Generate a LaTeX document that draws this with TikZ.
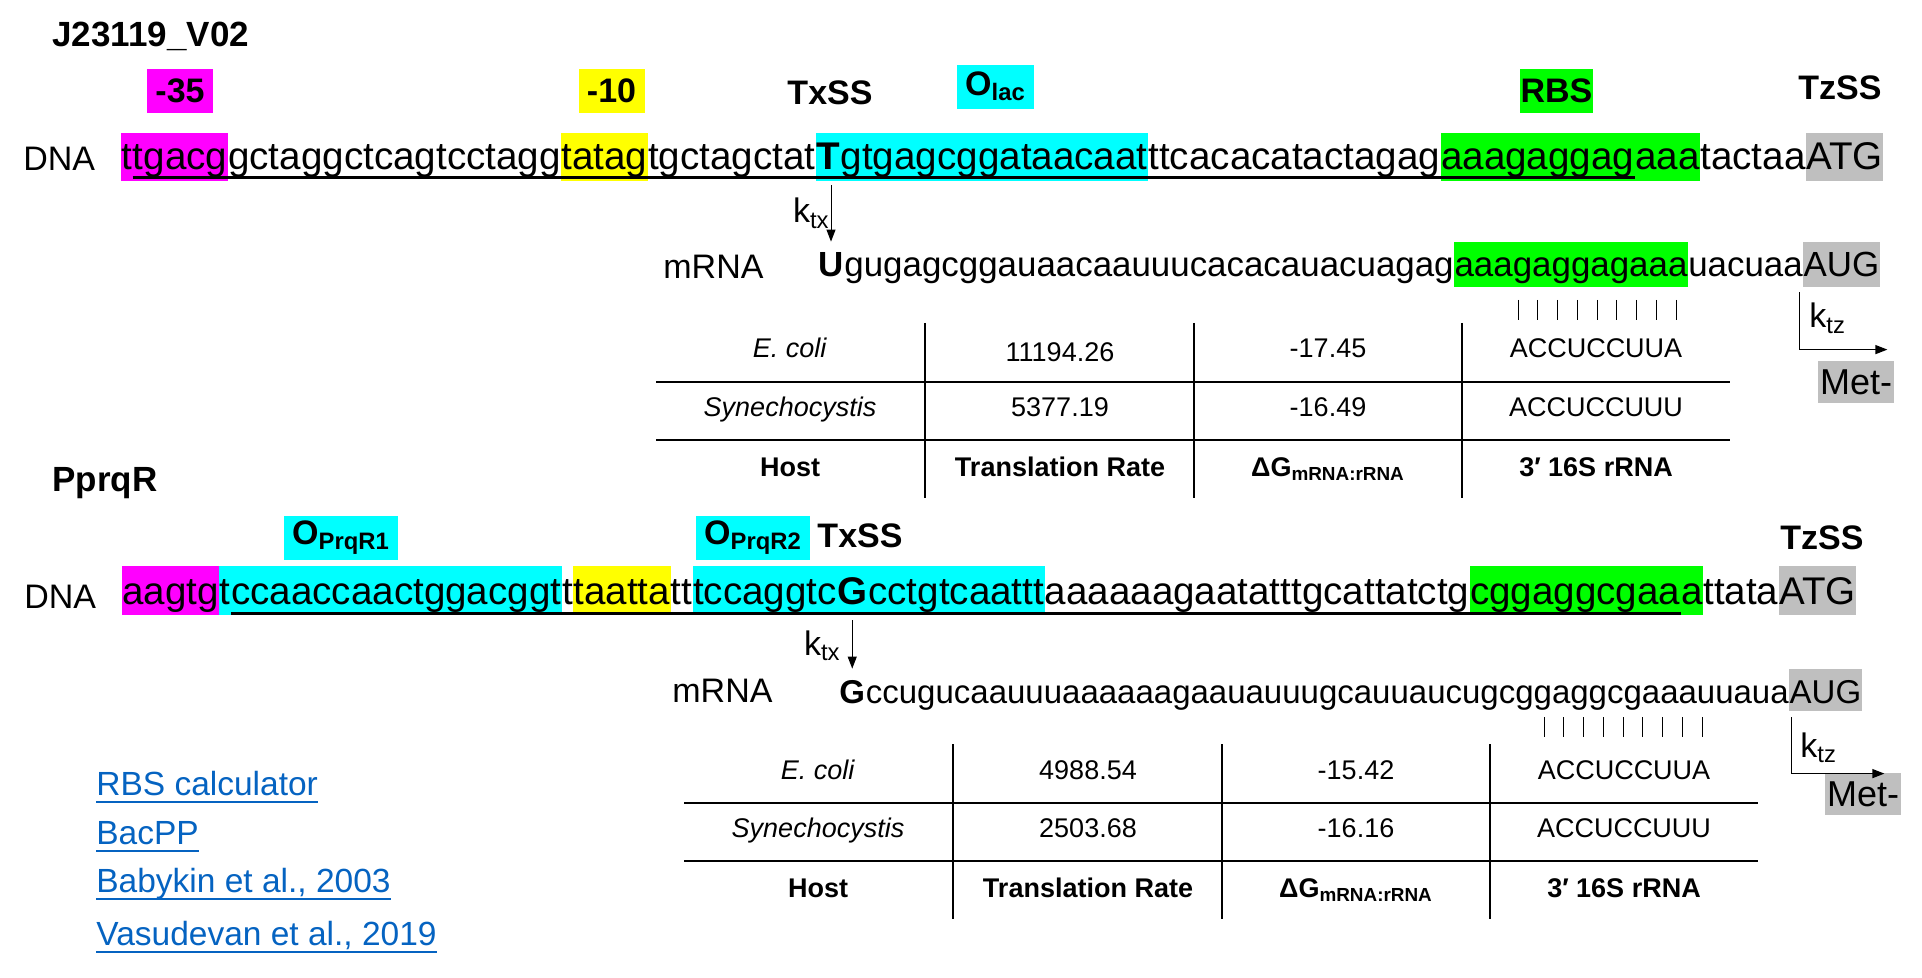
\documentclass[tikz,border=0pt]{standalone}
\usepackage{fontspec}
\setmainfont{Liberation Sans}
\usepackage{tikz}
\usetikzlibrary{positioning, arrows.meta}
\definecolor{boxMag}{RGB}{255,0,255}
\definecolor{boxYel}{RGB}{255,255,0}
\definecolor{boxCya}{RGB}{0,255,255}
\definecolor{boxGrn}{RGB}{0,255,0}
\definecolor{boxGry}{RGB}{191,191,191}
\definecolor{linkblue}{RGB}{5,99,193}

\begin{document}
\begin{tikzpicture}
  [
    x=0.5pt, y=-0.5pt,
    Seq/.style={inner sep=0pt, anchor=base west},
    DnaTop/.style={Seq, font=\fontsize{19.3}{23}\selectfont, text height=18.5pt, text depth=5pt},
    RnaTop/.style={Seq, font=\fontsize{17.45}{21}\selectfont, text height=17.5pt, text depth=4.5pt},
    DnaBot/.style={Seq, font=\fontsize{19.28}{23}\selectfont, text height=19pt, text depth=5pt},
    RnaBot/.style={Seq, font=\fontsize{16.5}{20}\selectfont, text height=17pt, text depth=3.5pt},
    Mag/.style={fill=boxMag, draw=boxMag, line width=0.4pt},
    Yel/.style={fill=boxYel, draw=boxYel, line width=0.4pt},
    Cya/.style={fill=boxCya, draw=boxCya, line width=0.4pt},
    Grn/.style={fill=boxGrn, draw=boxGrn, line width=0.4pt},
    Gry/.style={fill=boxGry, draw=boxGry, line width=0.4pt},
    Name/.style={font=\fontsize{17.5}{21}\selectfont\bfseries, inner sep=0pt, anchor=base west},
    Tag/.style={font=\fontsize{17}{20}\selectfont\bfseries, inner xsep=4pt, inner ysep=0pt, minimum height=21.5pt},
    Strand/.style={font=\fontsize{17}{20}\selectfont, inner sep=0pt, anchor=base west},
    Rate/.style={font=\fontsize{17}{20}\selectfont, inner sep=0pt},
    Cell/.style={font=\fontsize{13.5}{16}\selectfont, inner sep=0pt, anchor=base},
    Head/.style={Cell, font=\fontsize{13.5}{16}\selectfont\bfseries},
    Met/.style={fill=boxGry, font=\fontsize{18}{21}\selectfont, inner xsep=1pt, inner ysep=0pt, minimum height=21pt},
    Link/.style={text=linkblue, font=\fontsize{16.75}{20}\selectfont, inner sep=0pt, anchor=base west},
    Uline/.style={line width=1.2pt},
    Rule/.style={line width=0.9pt},
    Arr/.style={-{Triangle[length=6pt, width=4.5pt]}, line width=0.6pt}
  ]
  \useasboundingbox (0,0) rectangle (1922,978);

  % J23119_V02 promoter
  \node[Name] (jName) at (52,47) {J23119\_V02};
  \node[Tag, Mag] (j35) at (180,90.5) {-35};
  \node[Tag, Yel] (j10) at (611.5,90.5) {-10};
  \node[Tag] (jTxSS) at (830,93) {TxSS};
  \node[Tag, Cya] (jOlac) at (995.5,86.5) {O\textsubscript{lac}};
  \node[Tag, Grn, inner xsep=0pt] (jRBS) at (1556.5,90.5) {RBS};
  \node[Tag] (jTzSS) at (1840,88) {TzSS};

  % DNA
  \node[Strand] (jDNA) at (23,171) {DNA};
  \node[DnaTop, Mag] (jt) at (121,170) {t};
  \node[DnaTop, Mag, right=0pt of jt] (jm35) {tgacg};
  \node[DnaTop, right=0pt of jm35] (jg1) {gctaggctcagtcctagg};
  \node[DnaTop, Yel, right=0pt of jg1] (jm10) {tatag};
  \node[DnaTop, right=0pt of jm10] (jg2) {tgctagctat};
  \node[DnaTop, Cya, right=0pt of jg2] (jT) {\textbf{T}};
  \node[DnaTop, Cya, right=0pt of jT] (jlac) {gtgagcggataacaat};
  \node[DnaTop, right=0pt of jlac] (jg3) {ttcacacatactagag};
  \node[DnaTop, Grn, right=0pt of jg3] (jrbs) {aaagaggag};
  \node[DnaTop, Grn, right=0pt of jrbs] (jrbs2) {aaa};
  \node[DnaTop, right=0pt of jrbs2] (jg4) {tactaa};
  \node[DnaTop, Gry, right=0pt of jg4] (jATG) {ATG};
  \draw[Uline] ([yshift=1.5pt]jt.south east) -- ([yshift=1.5pt]jrbs.south east);

  % mRNA
  \node[Strand] (jmRNA) at (663,279) {mRNA};
  \node[RnaTop] (jU) at (818,277) {\textbf{U}};
  \node[RnaTop, right=0pt of jU] (jr1) {gugagcggauaacaauuucacacauacuagag};
  \node[RnaTop, Grn, right=0pt of jr1] (jrRBS) {aaagaggagaaa};
  \node[RnaTop, right=0pt of jrRBS] (jr2) {uacuaa};
  \node[RnaTop, Gry, right=0pt of jr2] (jAUG) {AUG};
  \coordinate (jtx) at (jU.north |- jT.south);
  \draw[Arr, line width=0.5pt] ([yshift=-2.5pt]jtx) -- (jU.north);
  \node[Rate, anchor=base east] (jktx) at (830,223) {k\textsubscript{tx}};
  \foreach \i in {0,...,8}
    \draw[line width=0.5pt] (1518+19.75*\i,300) -- (1518+19.75*\i,320);

  % Translation
  \node[Met] (jMet) at (1856,382) {Met-};
  \coordinate (jtz) at ([xshift=-2pt, yshift=-3pt]jAUG.south west);
  \draw[Arr] (jtz) |- ([xshift=-3.5pt, yshift=5.5pt]jMet.north east);
  \node[Rate, anchor=base west] (jktz) at (1809,328) {k\textsubscript{tz}};

  % Table
  \draw[Rule] (656,382) -- (1730,382);
  \draw[Rule] (656,440) -- (1730,440);
  \foreach \x in {925,1194,1462}
    \draw[line width=0.75pt] (\x,323) -- (\x,498);
  \node[Cell] (jEco) at (790,358) {\textit{E. coli}};
  \node[Cell] (jEcoTR) at (1060,362) {11194.26};
  \node[Cell] (jEcoDG) at (1328,358) {-17.45};
  \node[Cell] (jEcoRNA) at (1596,358) {ACCUCCUUA};
  \node[Cell] (jSyn) at (790,416) {\textit{Synechocystis}};
  \node[Cell] (jSynTR) at (1060,416) {5377.19};
  \node[Cell] (jSynDG) at (1328,416) {-16.49};
  \node[Cell] (jSynRNA) at (1596,416) {ACCUCCUUU};
  \node[Head] (jHost) at (790,476) {Host};
  \node[Head] (jTR) at (1060,476) {Translation Rate};
  \node[Head] (jDG) at (1328,476) {ΔG\textsubscript{mRNA:rRNA}};
  \node[Head] (jRNA) at (1596,476) {3′ 16S rRNA};

  % PprqR promoter
  \node[Name] (pName) at (52,492) {PprqR};
  \node[Tag, Cya] (pO1) at (341,538) {O\textsubscript{PrqR1}};
  \node[Tag, Cya] (pO2) at (753,538) {O\textsubscript{PrqR2}};
  \node[Tag] (pTxSS) at (860,536) {TxSS};
  \node[Tag] (pTzSS) at (1822,538) {TzSS};

  % DNA
  \node[Strand] (pDNA) at (24,608) {DNA};
  \node[DnaBot, Mag] (pm35) at (122,604) {aagtg};
  \node[DnaBot, Cya, right=0pt of pm35] (pt) {t};
  \node[DnaBot, Cya, right=0pt of pt] (pOp1) {ccaaccaactggacggt};
  \node[DnaBot, right=0pt of pOp1] (pg1) {t};
  \node[DnaBot, Yel, right=0pt of pg1] (pm10) {taatta};
  \node[DnaBot, right=0pt of pm10] (pg2) {tt};
  \node[DnaBot, Cya, right=0pt of pg2] (pOp2) {tccaggtc};
  \node[DnaBot, Cya, right=0pt of pOp2] (pG) {\textbf{G}};
  \node[DnaBot, Cya, right=0pt of pG] (pOp3) {cctgtcaattt};
  \node[DnaBot, right=0pt of pOp3] (pg3) {aaaaaagaatatttgcattatctg};
  \node[DnaBot, Grn, right=0pt of pg3] (prbs) {cggaggcgaa};
  \node[DnaBot, Grn, right=0pt of prbs] (prbs2) {a};
  \node[DnaBot, right=0pt of prbs2] (pg4) {ttata};
  \node[DnaBot, Gry, right=0pt of pg4] (pATG) {ATG};
  \draw[Uline] ([yshift=0.5pt]pt.south east) -- ([yshift=0.5pt]prbs.south east);

  % mRNA
  \node[Strand] (pmRNA) at (672,702) {mRNA};
  \node[RnaBot] (pGm) at (839,703) {\textbf{G}};
  \node[RnaBot, right=0pt of pGm] (pr1) {ccugucaauuuaaaaaagaauauuugcauuaucugcggaggcgaaauuaua};
  \node[RnaBot, Gry, right=0pt of pr1] (pAUG) {AUG};
  \coordinate (ptx) at (pGm.north |- pG.south);
  \draw[Arr, line width=0.5pt] ([yshift=-3pt]ptx) -- (pGm.north);
  \node[Rate, anchor=base east] (pktx) at (841,655) {k\textsubscript{tx}};
  \foreach \i in {0,...,8}
    \draw[line width=0.5pt] (1544+19.75*\i,717) -- (1544+19.75*\i,737);

  % Translation
  \node[Met] (pMet) at (1863,794) {Met-};
  \coordinate (ptz) at ([xshift=1pt, yshift=-3.5pt]pAUG.south west);
  \draw[Arr] (ptz) |- ([xshift=-8.5pt, yshift=-0.5pt]pMet.north east);
  \node[Rate, anchor=base west] (pktz) at (1800,757) {k\textsubscript{tz}};

  % Table
  \begin{scope}[shift={(28,421)}]
    \draw[Rule] (656,382) -- (1730,382);
    \draw[Rule] (656,440) -- (1730,440);
    \foreach \x in {925,1194,1462}
      \draw[line width=0.75pt] (\x,323) -- (\x,498);
    \node[Cell] (pEco) at (790,358) {\textit{E. coli}};
    \node[Cell] (pEcoTR) at (1060,358) {4988.54};
    \node[Cell] (pEcoDG) at (1328,358) {-15.42};
    \node[Cell] (pEcoRNA) at (1596,358) {ACCUCCUUA};
    \node[Cell] (pSyn) at (790,416) {\textit{Synechocystis}};
    \node[Cell] (pSynTR) at (1060,416) {2503.68};
    \node[Cell] (pSynDG) at (1328,416) {-16.16};
    \node[Cell] (pSynRNA) at (1596,416) {ACCUCCUUU};
    \node[Head] (pHost) at (790,476) {Host};
    \node[Head] (pTR) at (1060,476) {Translation Rate};
    \node[Head] (pDG) at (1328,476) {ΔG\textsubscript{mRNA:rRNA}};
    \node[Head] (pRNA) at (1596,476) {3′ 16S rRNA};
  \end{scope}

  % Links
  \foreach \n/\t/\y in {lRBS/RBS calculator/795, lBac/BacPP/844,
      lBab/{Babykin et al., 2003}/892, lVas/{Vasudevan et al., 2019}/945}
  {
    \node[Link] (\n) at (96,\y) {\t};
    \draw[linkblue, line width=1.2pt] ([yshift=-3.5pt]\n.base west) -- ([yshift=-3.5pt]\n.base east);
  }
\end{tikzpicture}
\end{document}
